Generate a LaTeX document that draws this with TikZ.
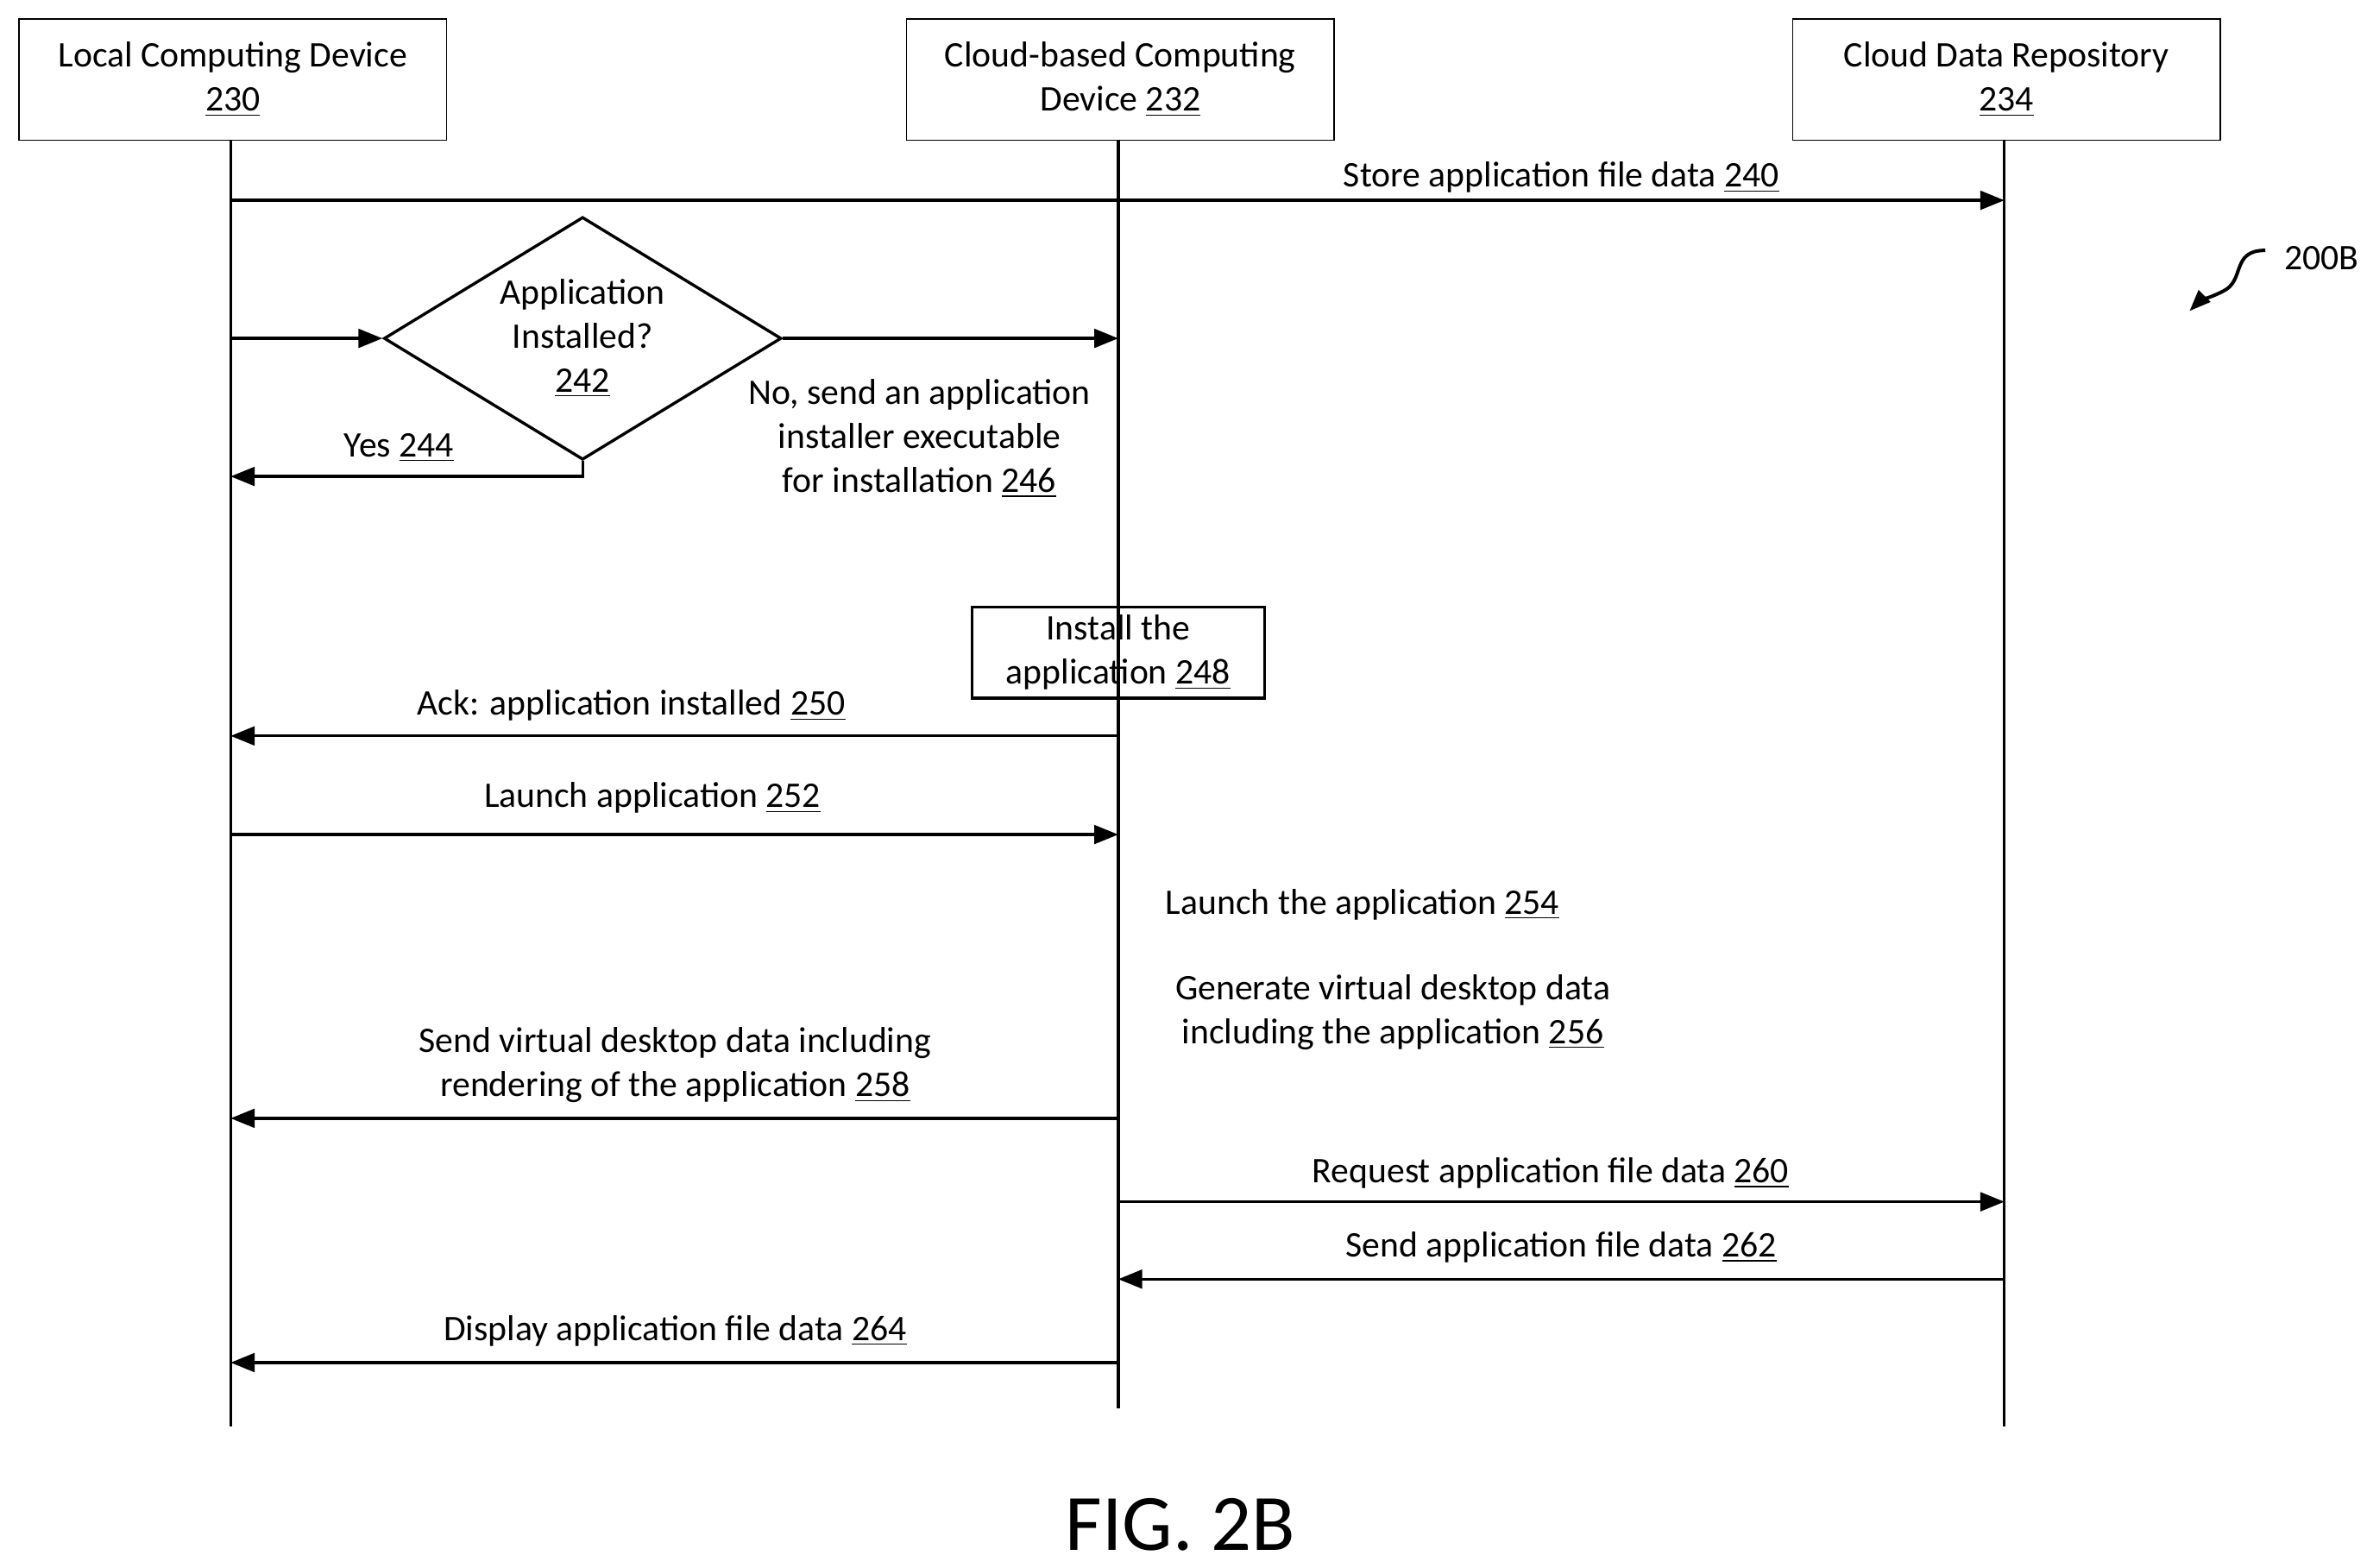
\documentclass[tikz,border=0pt]{standalone}
\usepackage{fontspec}
\setmainfont{Carlito}
\usetikzlibrary{arrows.meta,shapes.geometric}
\begin{document}
\begin{tikzpicture}[x=0.02cm,y=-0.02cm,font=\fontsize{13.5}{16.5}\selectfont,
  line width=1.1pt,
  msg/.style={-{Triangle[length=9pt,width=7pt]}},
  hdr/.style={draw,line width=0.5pt,minimum width=5.64cm,minimum height=1.6cm,align=center,anchor=north west},
  lbl/.style={align=center,inner sep=0pt}]
\useasboundingbox (0,0) rectangle (1560,1033);
\node[hdr] (A) at (12,12) {Local Computing Device\\\underline{230}};
\node[hdr] (B) at (597,12) {Cloud-based Computing\\Device \underline{232}};
\node[hdr] (C) at (1181,12) {Cloud Data Repository\\\underline{234}};
\coordinate (a0) at (152,92); \coordinate (a1) at (152,940);
\coordinate (b0) at (737,92); \coordinate (b1) at (737,928);
\coordinate (c0) at (1321,92); \coordinate (c1) at (1321,940);
\draw (a0)--(a1); \draw (b0)--(b1); \draw (c0)--(c1);
% 240
\coordinate (s1) at (152,132); \coordinate (e1) at (1321,132);
\draw[msg] (s1)--(e1);
\node[lbl] (l240) at (1029,117) {Store application file data \underline{240}};
% diamond
\node[diamond,draw,aspect=1.64,minimum width=5.24cm,minimum height=3.2cm,inner sep=0pt,align=center,line width=1.1pt] (D) at (384,223) {};
\node[lbl] (l242) at (384,223) {Application\\Installed?\\\underline{242}};
\coordinate (s2) at (152,223);
\draw[msg] (s2)--(D.west);
\coordinate (e3) at (737,223);
\draw[msg] (D.east)--(e3);
\coordinate (y1) at (384,314); \coordinate (e4) at (152,314);
\draw[msg] (D.south)--(y1)--(e4);
\node[lbl] (l244) at (263,295) {Yes \underline{244}};
\node[lbl,fill=white,inner sep=1pt] (l246) at (606,289) {No, send an application\\installer executable\\for installation \underline{246}};
\node[draw,line width=1.1pt,minimum width=3.86cm,minimum height=1.2cm,inner sep=0pt,align=center] (I) at (737,430) {Install the\\application \underline{248}};
% 250
\coordinate (s5) at (737,485); \coordinate (e5) at (152,485);
\draw[msg] (s5)--(e5);
\node[lbl] (l250) at (416,465) {Ack: application installed \underline{250}};
\coordinate (s6) at (152,550); \coordinate (e6) at (737,550);
\draw[msg] (s6)--(e6);
\node[lbl] (l252) at (430,526) {Launch application \underline{252}};
\node[lbl] (l254) at (898,596) {Launch the application \underline{254}};
\node[lbl] (l256) at (918,667) {Generate virtual desktop data\\including the application \underline{256}};
\coordinate (s7) at (737,737); \coordinate (e7) at (152,737);
\draw[msg] (s7)--(e7);
\node[lbl] (l258) at (445,702) {Send virtual desktop data including\\rendering of the application \underline{258}};
\coordinate (s8) at (737,792); \coordinate (e8) at (1321,792);
\draw[msg] (s8)--(e8);
\node[lbl] (l260) at (1022,773) {Request application file data \underline{260}};
\coordinate (s9) at (1321,843); \coordinate (e9) at (737,843);
\draw[msg] (s9)--(e9);
\node[lbl] (l262) at (1029,822) {Send application file data \underline{262}};
\coordinate (s10) at (737,898); \coordinate (e10) at (152,898);
\draw[msg] (s10)--(e10);
\node[lbl] (l264) at (445,877) {Display application file data \underline{264}};
\node[lbl,font=\fontsize{30}{36}\selectfont] (fig) at (778,1005) {FIG. 2B};
\node[lbl] (ref) at (1530,170) {200B};
\coordinate (q0) at (1493,165); \coordinate (q1) at (1443,205);
\draw[-{Triangle[length=8pt,width=6pt]},line width=1.3pt] (q0) .. controls (1470,165) and (1480,185) .. (1465,192) .. controls (1455,197) and (1450,198) .. (q1);
\end{tikzpicture}
\end{document}
